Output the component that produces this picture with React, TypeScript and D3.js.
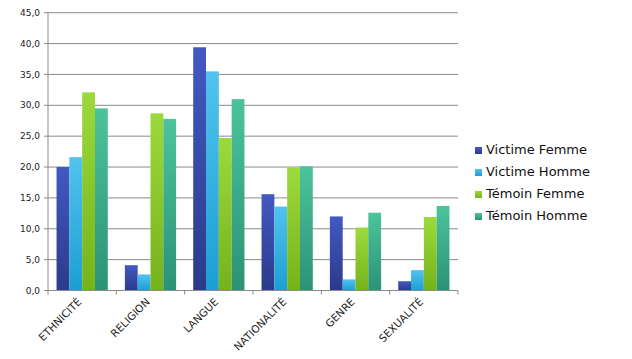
import React from "react";
import * as d3 from "d3";

const categories = ["ETHNICITÉ", "RELIGION", "LANGUE", "NATIONALITÉ", "GENRE", "SEXUALITÉ"];
const seriesNames = ["Victime Femme", "Victime Homme", "Témoin Femme", "Témoin Homme"];
const victimeFemme = [20.0, 4.1, 39.4, 15.6, 12.0, 1.5];
const victimeHomme = [21.6, 2.6, 35.5, 13.6, 1.8, 3.3];
const temoinFemme = [32.1, 28.7, 24.7, 19.9, 10.2, 11.9];
const temoinHomme = [29.5, 27.8, 31.0, 20.1, 12.6, 13.7];
const yTicks = [0, 5, 10, 15, 20, 25, 30, 35, 40, 45];

const seriesValues = [victimeFemme, victimeHomme, temoinFemme, temoinHomme];
const colorsTop = ["#4259c2", "#52c3ee", "#9cda3c", "#4cc39c"];
const colorsBottom = ["#2b3a8a", "#1c9ed2", "#76b21a", "#2d9276"];

export default function App() {
  const W = 632, H = 359;
  const left = 48, right = 458, top = 12.7, bottom = 290.5;
  const x = d3.scaleBand<string>().domain(categories).range([left, right]).paddingInner(0.25).paddingOuter(0.125);
  const x1 = d3.scaleBand<string>().domain(seriesNames).range([0, x.bandwidth()]);
  const y = d3.scaleLinear().domain([0, 45]).range([bottom, top]);
  const step = (right - left) / categories.length;
  const fmt = (v: number) => v.toFixed(1).replace(".", ",");
  const font = "'DejaVu Sans', Verdana, sans-serif";

  return (
    <svg width={W} height={H} style={{ position: "absolute", left: 0, top: 0, background: "#fff" }}>
      <defs>
        {seriesNames.map((s, i) => (
          <linearGradient key={s} id={`g${i}`} x1="0" y1="0" x2="0" y2="1">
            <stop offset="0%" stopColor={colorsTop[i]} />
            <stop offset="100%" stopColor={colorsBottom[i]} />
          </linearGradient>
        ))}
      </defs>
      {yTicks.map((t) => (
        <g key={t}>
          <line x1={left - 4} x2={right} y1={y(t)} y2={y(t)} stroke="#8a8a8a" strokeWidth={1} />
          <text x={left - 8} y={y(t)} dy="0.35em" textAnchor="end" fontFamily={font} fontSize={9} fill="#222">
            {fmt(t)}
          </text>
        </g>
      ))}
      {categories.map((c, ci) => (
        <g key={c}>
          {seriesNames.map((s, si) => {
            const v = seriesValues[si][ci];
            return (
              <rect
                key={s}
                x={(x(c) as number) + (x1(s) as number)}
                y={y(v)}
                width={x1.bandwidth()}
                height={y(0) - y(v)}
                fill={`url(#g${si})`}
              />
            );
          })}
        </g>
      ))}
      <line x1={left} x2={left} y1={top} y2={bottom} stroke="#8a8a8a" />
      <line x1={left} x2={right} y1={bottom} y2={bottom} stroke="#8a8a8a" />
      {d3.range(categories.length + 1).map((i) => (
        <line key={i} x1={left + i * step} x2={left + i * step} y1={bottom} y2={bottom + 4} stroke="#8a8a8a" />
      ))}
      {categories.map((c) => {
        const cx = (x(c) as number) + x.bandwidth() / 2;
        const cy = bottom + 12;
        return (
          <text
            key={c}
            x={cx}
            y={cy}
            transform={`rotate(-45 ${cx} ${cy})`}
            textAnchor="end"
            fontFamily={font}
            fontSize={10.5}
            fill="#222"
          >
            {c}
          </text>
        );
      })}
      {seriesNames.map((s, i) => (
        <g key={s} transform={`translate(475, ${147 + i * 22})`}>
          <rect x={0} y={0} width={7} height={7} fill={`url(#g${i})`} />
          <text x={11} y={7} fontFamily={font} fontSize={13} fill="#111">
            {s}
          </text>
        </g>
      ))}
    </svg>
  );
}
